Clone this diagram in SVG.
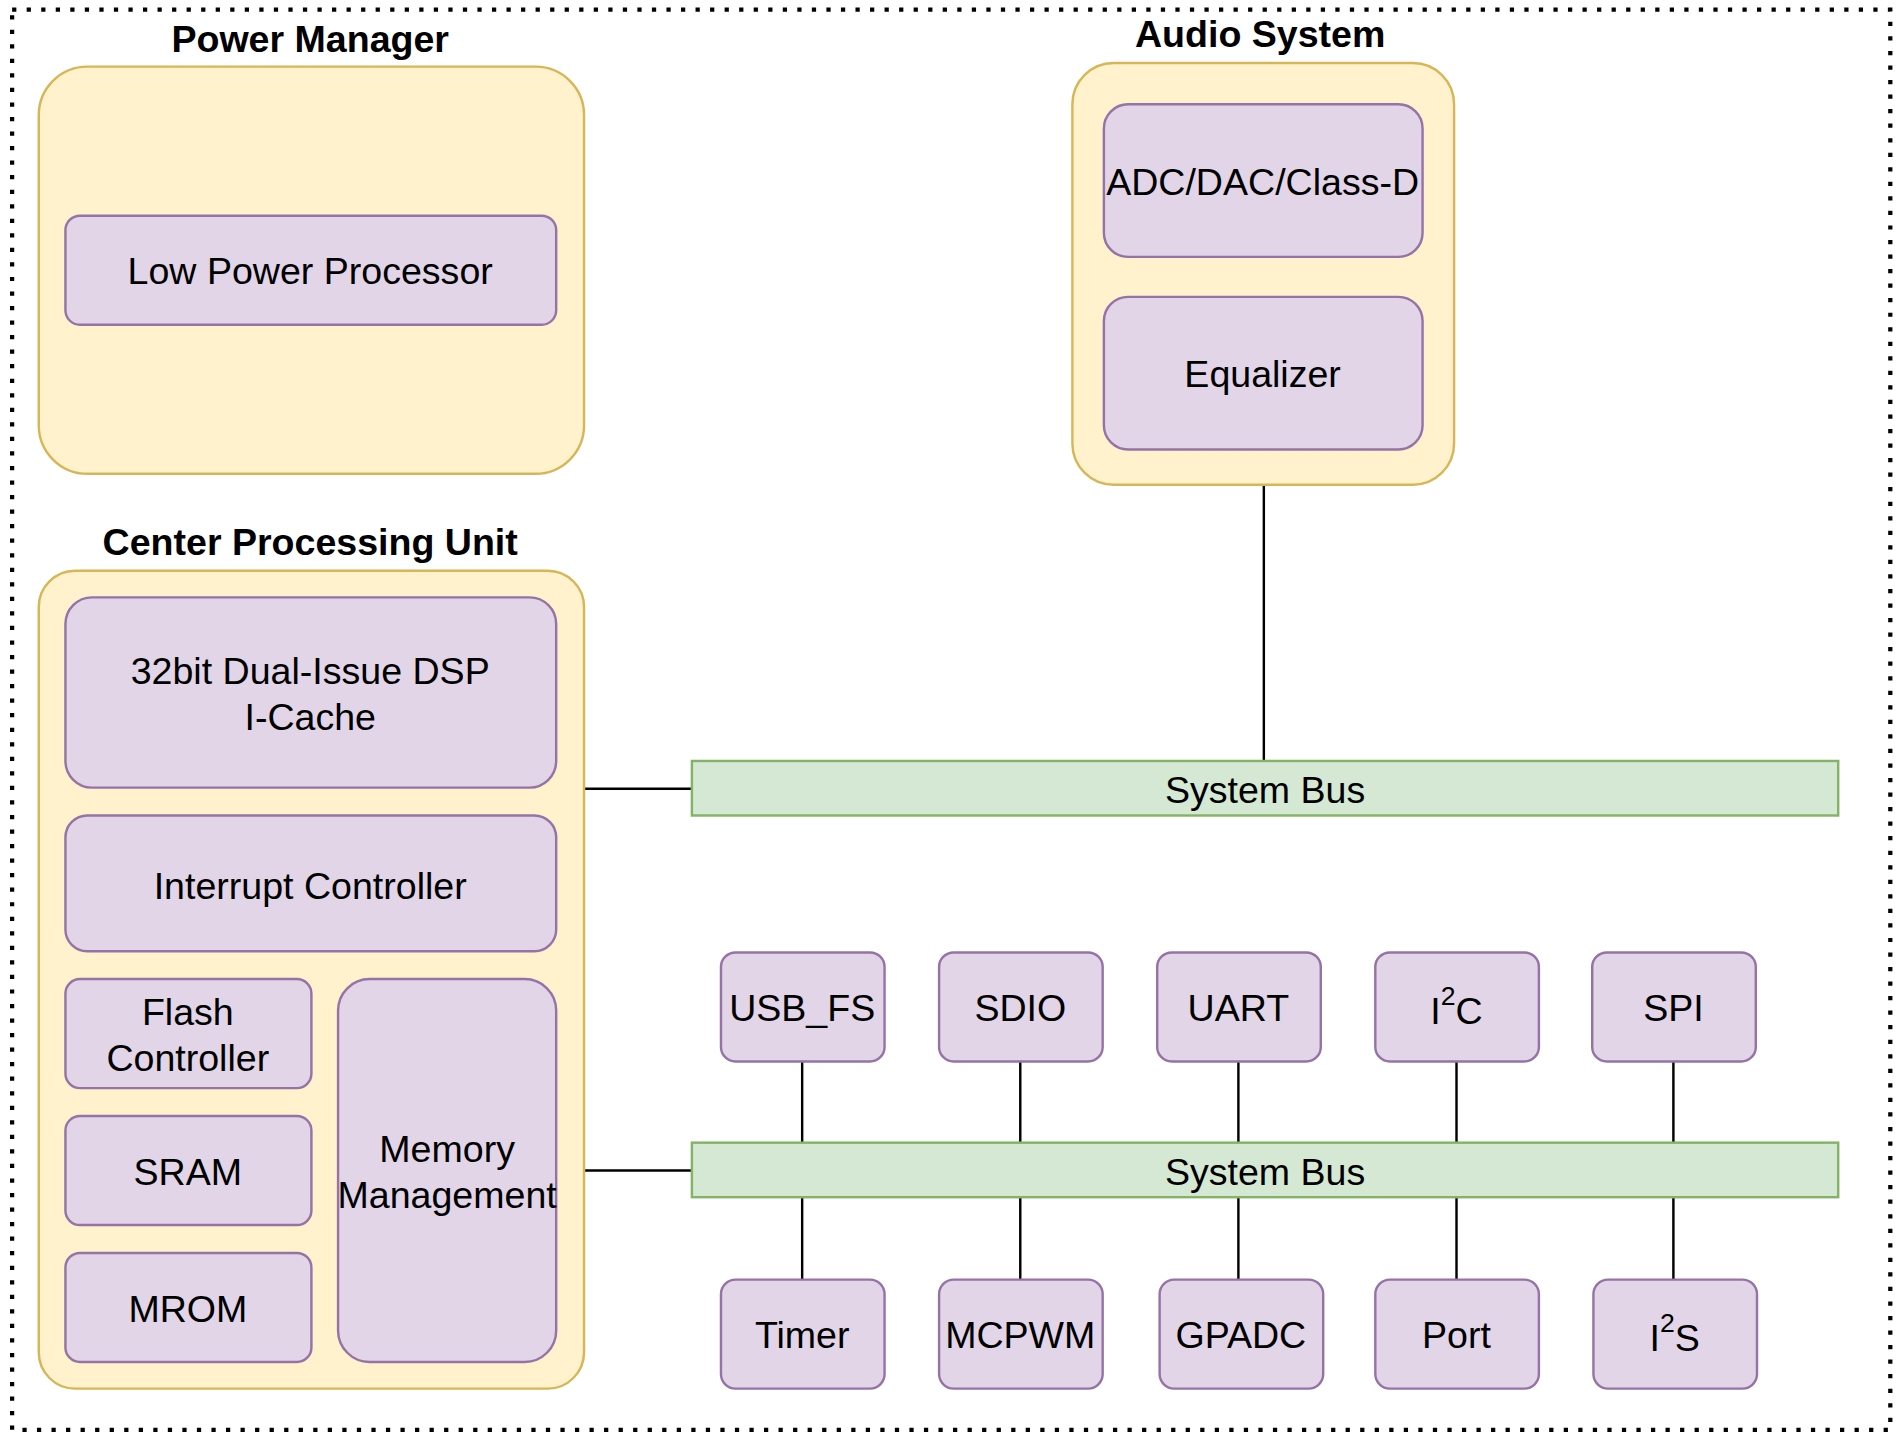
<svg xmlns="http://www.w3.org/2000/svg" width="1900" height="1436" viewBox="0 0 1900 1436">
<style>
.grp{fill:#fff2cc;stroke:#d6b656;stroke-width:2}
.blk{fill:#e1d5e7;stroke:#9673a6;stroke-width:2}
.bus{fill:#d5e8d4;stroke:#82b366;stroke-width:2}
.t{font-family:"Liberation Sans",Arial,sans-serif;font-size:31px;fill:#000;text-anchor:middle;dominant-baseline:central}
.h{font-family:"Liberation Sans",Arial,sans-serif;font-size:31px;font-weight:bold;fill:#000;text-anchor:middle;dominant-baseline:central}
.ln{stroke:#000;stroke-width:2;fill:none}
</style>
<rect width="1900" height="1436" fill="#fff"/>
<g transform="scale(1.21173)">
<rect x="10" y="8" width="1550" height="1172" fill="none" stroke="#000" stroke-width="3.5" stroke-dasharray="3.5 8.5"/>
<g id="connectors">
<path class="ln" d="M1043 400V628M482 651H571M482 966H571M662 876V1056M842 876V1056M1022 876V1056M1202 876V1056M1381 876V1056"/>
</g>
<g id="power-manager"><text class="h" x="256" y="32">Power Manager</text><rect class="grp" x="32" y="55" width="450" height="336" rx="40"/></g>
<g id="low-power"><rect class="blk" x="54" y="178" width="405" height="90" rx="12"/><text class="t" x="256" y="224">Low Power Processor</text></g>
<g id="audio-system"><text class="h" x="1040" y="28">Audio System</text><rect class="grp" x="885" y="52" width="315" height="348" rx="34"/></g>
<g id="adc"><rect class="blk" x="911" y="86" width="263" height="126" rx="20"/><text class="t" x="1042" y="150">ADC/DAC/Class-D</text></g>
<g id="eq"><rect class="blk" x="911" y="245" width="263" height="126" rx="20"/><text class="t" x="1042" y="309">Equalizer</text></g>
<g id="cpu"><text class="h" x="256" y="447">Center Processing Unit</text><rect class="grp" x="32" y="471" width="450" height="675" rx="30"/></g>
<g id="dsp"><rect class="blk" x="54" y="493" width="405" height="157" rx="22"/><text class="t" x="256" y="554">32bit Dual-Issue DSP</text><text class="t" x="256" y="592">I-Cache</text></g>
<g id="intc"><rect class="blk" x="54" y="673" width="405" height="112" rx="18"/><text class="t" x="256" y="731">Interrupt Controller</text></g>
<g id="flash"><rect class="blk" x="54" y="808" width="203" height="90" rx="12"/><text class="t" x="155" y="835">Flash</text><text class="t" x="155" y="873">Controller</text></g>
<g id="sram"><rect class="blk" x="54" y="921" width="203" height="90" rx="12"/><text class="t" x="155" y="967">SRAM</text></g>
<g id="mrom"><rect class="blk" x="54" y="1034" width="203" height="90" rx="12"/><text class="t" x="155" y="1080">MROM</text></g>
<g id="mmu"><rect class="blk" x="279" y="808" width="180" height="316" rx="26"/><text class="t" x="369" y="948">Memory</text><text class="t" x="369" y="986">Management</text></g>
<g id="bus1"><rect class="bus" x="571" y="628" width="946" height="45"/><text class="t" x="1044" y="652">System Bus</text></g>
<g id="bus2"><rect class="bus" x="571" y="943" width="946" height="45"/><text class="t" x="1044" y="967">System Bus</text></g>
<g id="usb"><rect class="blk" x="595" y="786" width="135" height="90" rx="12"/><text class="t" x="662" y="832">USB_FS</text></g>
<g id="sdio"><rect class="blk" x="775" y="786" width="135" height="90" rx="12"/><text class="t" x="842" y="832">SDIO</text></g>
<g id="uart"><rect class="blk" x="955" y="786" width="135" height="90" rx="12"/><text class="t" x="1022" y="832">UART</text></g>
<g id="i2c"><rect class="blk" x="1135" y="786" width="135" height="90" rx="12"/><text class="t" x="1202" y="834">I<tspan font-size="22" dy="-12">2</tspan><tspan dy="12">C</tspan></text></g>
<g id="spi"><rect class="blk" x="1314" y="786" width="135" height="90" rx="12"/><text class="t" x="1381" y="832">SPI</text></g>
<g id="timer"><rect class="blk" x="595" y="1056" width="135" height="90" rx="12"/><text class="t" x="662" y="1102">Timer</text></g>
<g id="mcpwm"><rect class="blk" x="775" y="1056" width="135" height="90" rx="12"/><text class="t" x="842" y="1102">MCPWM</text></g>
<g id="gpadc"><rect class="blk" x="957" y="1056" width="135" height="90" rx="12"/><text class="t" x="1024" y="1102">GPADC</text></g>
<g id="port"><rect class="blk" x="1135" y="1056" width="135" height="90" rx="12"/><text class="t" x="1202" y="1102">Port</text></g>
<g id="i2s"><rect class="blk" x="1315" y="1056" width="135" height="90" rx="12"/><text class="t" x="1382" y="1104">I<tspan font-size="22" dy="-12">2</tspan><tspan dy="12">S</tspan></text></g>
</g>
</svg>
